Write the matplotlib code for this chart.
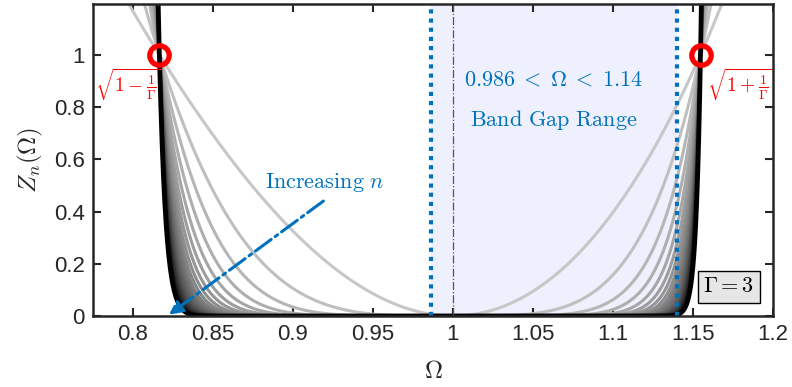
import numpy as np
import matplotlib
matplotlib.use('Agg')
import matplotlib.pyplot as plt

plt.rcParams['font.family'] = ['Liberation Sans', 'DejaVu Sans']
plt.rcParams['mathtext.fontset'] = 'cm'

# chart data
gamma = 3
orders = list(range(1, 26))          # n = 1..25, curves drawn light -> dark
gap_lo, gap_hi = 0.986, 1.14         # band gap edges
edge_pts = [np.sqrt(1 - 1 / gamma), np.sqrt(1 + 1 / gamma)]
xticks = [0.8, 0.85, 0.9, 0.95, 1, 1.05, 1.1, 1.15, 1.2]
xticklabels = ['0.8', '0.85', '0.9', '0.95', '1', '1.05', '1.1', '1.15', '1.2']
yticks = [0, 0.2, 0.4, 0.6, 0.8, 1]
yticklabels = ['0', '0.2', '0.4', '0.6', '0.8', '1']

blue = '#0072BD'
dark = '#262626'

fig = plt.figure(figsize=(7.92, 3.87), dpi=100)
ax = fig.add_axes([0.1174, 0.1835, 0.8586, 0.8065])

# band gap shading
ax.axvspan(gap_lo, gap_hi, color='#EEF0FD', zorder=0, lw=0)

# Z_n curves
om = np.linspace(0.775, 1.2, 2000)
shades = np.linspace(0.78, 0.0, len(orders))
for i, n in enumerate(orders):
    z = np.abs(gamma * (om ** 2 - 1)) ** (2 * n)
    lw = 3.4 if i == len(orders) - 1 else 2.2
    ax.plot(om, z, color=(shades[i],) * 3, lw=lw, zorder=2 + i * 0.01)

# vertical markers
ax.axvline(1.0, color='#555555', lw=0.9, ls='-.', zorder=3)
for xv in (gap_lo, gap_hi):
    ax.axvline(xv, color=blue, lw=3, ls=(0, (1, 1.2)), zorder=4)

# red circles at edges
ax.plot(edge_pts, [1, 1], 'o', ms=14, mfc='none', mec='red', mew=3.8, zorder=6)
ax.text(0.7765, 0.885, r'$\sqrt{1-\frac{1}{\Gamma}}$', color='red', fontsize=14,
        ha='left', va='center', zorder=6)
ax.text(1.1585, 0.885, r'$\sqrt{1+\frac{1}{\Gamma}}$', color='red', fontsize=14,
        ha='left', va='center', zorder=6)

# band gap texts
ax.text(1.063, 0.905, r'$0.986\;<\;\Omega\;<\;1.14$', color=blue, fontsize=16,
        ha='center', va='center', zorder=5)
ax.text(1.063, 0.752, r'$\mathrm{Band\ Gap\ Range}$', color=blue, fontsize=16,
        ha='center', va='center', zorder=5)

# increasing n arrow
ax.annotate('', xy=(0.8225, 0.005), xytext=(0.919, 0.44),
            arrowprops=dict(arrowstyle='-|>', color=blue, lw=2.2, ls='-.',
                            mutation_scale=20, shrinkA=0, shrinkB=0),
            zorder=7)
ax.text(0.92, 0.51, r'$\mathrm{Increasing}\ n$', color=blue, fontsize=16,
        ha='center', va='center', zorder=7)

# Gamma box
ax.text(1.1725, 0.112, r'$\Gamma = 3$', fontsize=16, ha='center', va='center',
        color='black', zorder=8,
        bbox=dict(boxstyle='square,pad=0.25', fc='#E6E6E6', ec='black', lw=1))

ax.set_xlim(0.775, 1.2)
ax.set_ylim(0, 1.195)
ax.set_xticks(xticks)
ax.set_xticklabels(xticklabels)
ax.set_yticks(yticks)
ax.set_yticklabels(yticklabels)
ax.tick_params(direction='in', length=6, width=1.5, top=True, right=True,
               labelsize=16, colors=dark, pad=6)
for s in ax.spines.values():
    s.set_linewidth(1.8)
    s.set_color(dark)
    s.set_zorder(10)
ax.set_xlabel(r'$\Omega$', fontsize=18, color=dark, labelpad=10)
ax.set_ylabel(r'$Z_n(\Omega)$', fontsize=18, color=dark, labelpad=6)

fig.savefig('out.png', dpi=100)
